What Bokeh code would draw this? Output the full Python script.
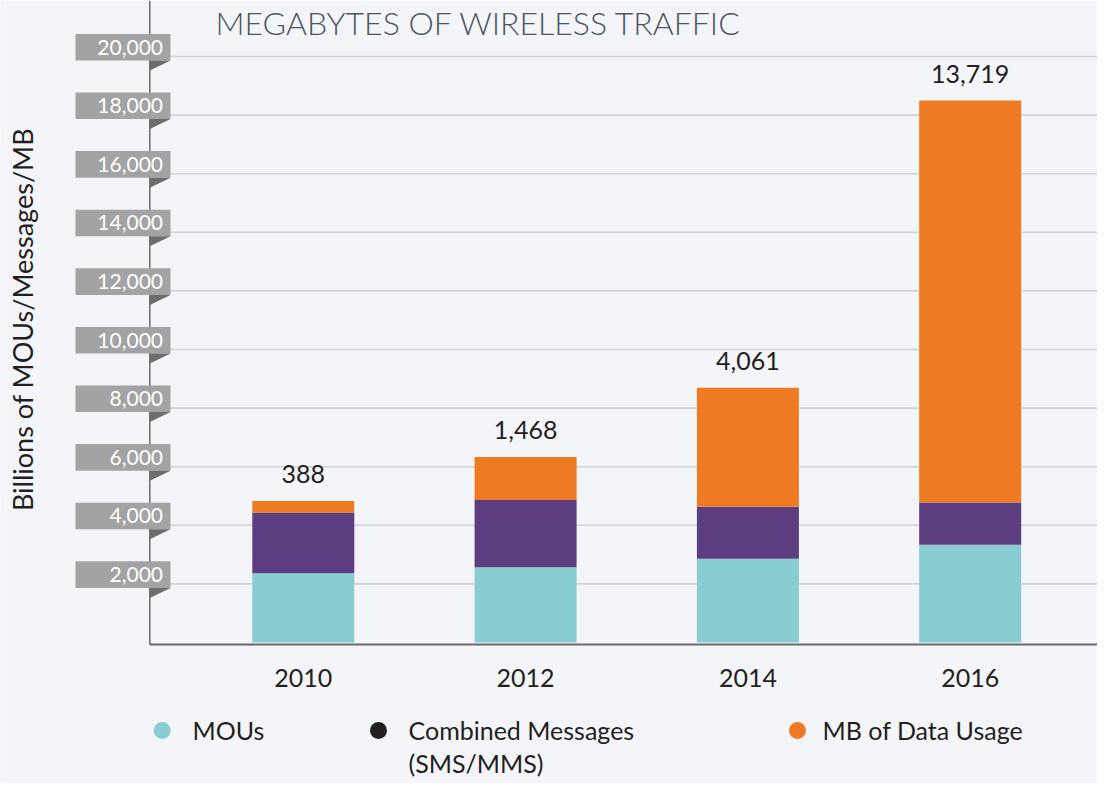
from bokeh.plotting import figure
from bokeh.models import Range1d, ColumnDataSource
from bokeh.core.properties import value
from bokeh.embed import file_html
from bokeh.resources import INLINE

# ---------------- data ----------------
years = ["2010", "2012", "2014", "2016"]
mous = [2366, 2571, 2855, 3333]
messages = [2072, 2291, 1778, 1446]
data_mb = [388, 1468, 4061, 13719]
y_ticks = [2000, 4000, 6000, 8000, 10000, 12000, 14000, 16000, 18000, 20000]
series_names = ["MOUs", "Combined Messages\n(SMS/MMS)", "MB of Data Usage"]
title_text = "MEGABYTES OF WIRELESS TRAFFIC"
y_label = "Billions of MOUs/Messages/MB"

# ---------------- style / layout ----------------
BG = "#F4F5F9"
C_MOU = "#89CDD2"
C_MSG = "#5C3D80"
C_MB = "#EE7A23"
C_MSG_LEGEND = "#231F20"
TXT = "#231F20"
FONT = "Lato"

W, H = 1097, 783
CANVAS = 0            # offset of the canvas in picture pixels
PPX = 222.3           # pixels per category step
FIRST_PX = 302.8      # x of first bar centre
ZERO_PY = 642.0       # y of value 0
PPU = 0.0293          # pixels per unit of value
UPP = 1.0 / PPU

x_start = -(FIRST_PX - CANVAS) / PPX
x_end = x_start + W / PPX
y_end = (ZERO_PY - CANVAS) * UPP
y_start = y_end - H * UPP


def X(px):
    return x_start + (px - CANVAS) / PPX


def Y(py):
    return (ZERO_PY - py) * UPP


p = figure(width=W, height=H, x_range=Range1d(x_start, x_end), y_range=Range1d(y_start, y_end),
           output_backend="svg", toolbar_location=None, x_axis_location=None, y_axis_location=None,
           min_border=0, min_border_left=0, min_border_right=0, min_border_top=0, min_border_bottom=0)
p.background_fill_color = BG
p.border_fill_color = BG
p.outline_line_color = None
p.grid.visible = False

AXIS_X = X(149.3)

# grid lines
p.segment(x0=[AXIS_X] * len(y_ticks), x1=[x_end] * len(y_ticks), y0=y_ticks, y1=y_ticks,
          line_color="#D2D3D8", line_width=1.6)

# axes lines
p.segment(x0=[AXIS_X], x1=[AXIS_X], y0=[0 - 2 * UPP], y1=[y_end], line_color="#6B6B6B", line_width=1.5)
p.segment(x0=[AXIS_X], x1=[x_end], y0=[0 - 2 * UPP], y1=[0 - 2 * UPP], line_color="#6B6B6B", line_width=1.8)

# stacked bars
xs = list(range(len(years)))
src = ColumnDataSource(dict(x=xs, mous=mous, messages=messages, data_mb=data_mb))
p.vbar_stack(["mous", "messages", "data_mb"], x="x", width=102 / PPX, source=src,
             color=[C_MOU, C_MSG, C_MB], line_color=None)

# value labels above bars
totals = [a + b + c for a, b, c in zip(mous, messages, data_mb)]
p.text(x=xs, y=totals, text=[f"{v:,}" for v in data_mb], text_align="center", text_baseline="middle",
       y_offset=-27, text_font=value(FONT), text_font_size="25px", text_color=TXT)

# year labels
p.text(x=xs, y=[0] * len(xs), text=years, text_align="center", text_baseline="middle",
       y_offset=35, text_font=value(FONT), text_font_size="25px", text_color=TXT)

# y tick tags
n = len(y_ticks)
p.quad(left=[X(75)] * n, right=[X(170)] * n, bottom=[t - 4 * UPP for t in y_ticks],
       top=[t + 22.6 * UPP for t in y_ticks], fill_color="#A3A3A3", line_color=None)
p.patches(xs=[[X(149.3), X(170), X(149.3)] for _ in y_ticks],
          ys=[[t - 4 * UPP, t - 4 * UPP, t - 14 * UPP] for t in y_ticks],
          fill_color="#6D6D6D", line_color=None)
p.text(x=[X(162.5)] * n, y=y_ticks, text=[f"{t:,}" for t in y_ticks], text_align="right",
       text_baseline="middle", y_offset=-9.4, text_font=value(FONT), text_font_size="21px",
       text_color="#FFFFFF")

# y axis label
p.text(x=[X(22)], y=[Y(319)], text=[y_label], angle=1.5707963, text_align="center",
       text_baseline="middle", text_font=value(FONT), text_font_size="27px", text_color=TXT)

# title
p.text(x=[X(215)], y=[Y(22)], text=[title_text], text_align="left", text_baseline="middle",
       text_font=value("Lato Light, Lato"), text_font_size="32px", text_color="#4A5561")

# legend
leg_marker_px = [161.7, 378.0, 797.0]
leg_text_px = [192.0, 408.0, 822.0]
leg_colors = [C_MOU, C_MSG_LEGEND, C_MB]
ROW_PY = 730
p.scatter(x=[X(v) for v in leg_marker_px], y=[Y(ROW_PY)] * 3, size=17, marker="circle",
          fill_color=leg_colors, line_color=None)
p.text(x=[X(v) for v in leg_text_px], y=[Y(ROW_PY)] * 3, text=series_names, text_align="left",
       text_baseline="top", y_offset=-16, text_font=value(FONT), text_font_size="25px", text_color=TXT,
       text_line_height=1.12)

open("out.html", "w").write(file_html(p, INLINE))
